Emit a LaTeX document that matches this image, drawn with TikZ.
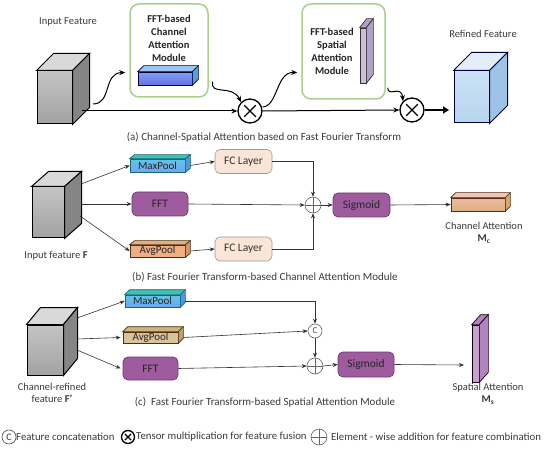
\documentclass[tikz,border=0pt]{standalone}
\usepackage{fontspec}
\setmainfont{Carlito}
\usetikzlibrary{arrows.meta,calc}
\definecolor{txt}{HTML}{3A3A3A}
\definecolor{lin}{HTML}{333333}
\definecolor{grn}{HTML}{A9D18E}
\definecolor{pur}{HTML}{9E5C9F}
\definecolor{purd}{HTML}{6E3A70}
\definecolor{fcf}{HTML}{FBE5D6}
\definecolor{gfa}{HTML}{C4C4C4}
\definecolor{gfb}{HTML}{A2A2A2}
\definecolor{gtop}{HTML}{D9D9D9}
\definecolor{gside}{HTML}{858585}
\definecolor{rfa}{HTML}{CBE2F5}
\definecolor{rfb}{HTML}{B7D5EF}
\definecolor{rtop}{HTML}{E2EEF9}
\definecolor{rside}{HTML}{9DC3E6}
\definecolor{bba}{HTML}{7FA2F2}
\definecolor{bbb}{HTML}{6670E0}
\definecolor{bbtop}{HTML}{9CC3F2}
\definecolor{bbside}{HTML}{5B9BE5}
\definecolor{mpa}{HTML}{5FC6E6}
\definecolor{mpb}{HTML}{6EA6F2}
\definecolor{mptop}{HTML}{3FC2B5}
\definecolor{mpside}{HTML}{4F96E0}
\definecolor{mpd}{HTML}{176870}
\definecolor{apbf}{HTML}{F0AE82}
\definecolor{apbtop}{HTML}{E3B07C}
\definecolor{apbside}{HTML}{D39565}
\definecolor{apcf}{HTML}{D9C39A}
\definecolor{apctop}{HTML}{CDB380}
\definecolor{apcside}{HTML}{BFA06A}
\definecolor{brd}{HTML}{4A3015}
\definecolor{cha}{HTML}{F0B8A4}
\definecolor{chb}{HTML}{D9B282}
\definecolor{chtop}{HTML}{F4C3B5}
\definecolor{chside}{HTML}{D5A86A}
\definecolor{sla}{HTML}{CDBFD9}
\definecolor{slside}{HTML}{B3A0C6}
\definecolor{slc}{HTML}{C9A1CF}
\definecolor{slcside}{HTML}{B185BC}
\newcommand{\threed}[6][]{%
  \draw[#1,fill=#5] (#2.north west) -- ++(#3,-#4) -- ([shift={(#3,-#4)}]#2.north east) -- (#2.north east) -- cycle;
  \draw[#1,fill=#6] (#2.north east) -- ++(#3,-#4) -- ([shift={(#3,-#4)}]#2.south east) -- (#2.south east) -- cycle;}
\begin{document}
\begin{tikzpicture}[x=1pt,y=-1pt,
  lbl/.style={font=\fontsize{10.5}{12}\selectfont, text=txt, inner sep=0pt, align=center},
  captxt/.style={font=\fontsize{11}{12}\selectfont, text=txt, inner sep=0pt, align=center},
  legtxt/.style={font=\fontsize{10.8}{12}\selectfont, text=txt, inner sep=0pt, anchor=west},
  bold/.style={font=\fontsize{10.5}{13}\selectfont\bfseries, text=black!85, inner sep=0pt, align=center},
  arr/.style={-{Stealth[length=5pt,width=4pt]}, draw=lin, line width=0.6pt},
  warr/.style={-{Stealth[length=6pt,width=5pt]}, draw=black, line width=1pt},
  face/.style={draw=black, line width=1pt, inner sep=0pt},
  bar/.style={draw, line width=0.7pt, inner sep=0pt, font=\fontsize{11}{12}\selectfont, text=black!85},
  modbox/.style={draw=grn, line width=1.5pt, rounded corners=9pt, fill=white, inner sep=0pt},
  purbox/.style={draw=purd, line width=0.7pt, fill=pur, rounded corners=5pt, inner sep=0pt, minimum width=56, minimum height=24, font=\fontsize{11.5}{12}\selectfont, text=black!85},
  fcbox/.style={draw=black!40, line width=0.6pt, fill=fcf, rounded corners=5pt, inner sep=0pt, minimum width=57, minimum height=24, font=\fontsize{11.5}{12}\selectfont, text=black!80},
  otimes/.style={circle, draw=black, line width=1.3pt, minimum size=#1, inner sep=0pt,
    path picture={\draw[line width=1.2pt] ([shift={(-0.24*#1,-0.24*#1)}]path picture bounding box.center) -- ([shift={(0.24*#1,0.24*#1)}]path picture bounding box.center)
      ([shift={(-0.24*#1,0.24*#1)}]path picture bounding box.center) -- ([shift={(0.24*#1,-0.24*#1)}]path picture bounding box.center);}},
  oplus/.style={circle, draw=black!60, line width=0.6pt, fill=white, minimum size=#1, inner sep=0pt,
    path picture={\draw[black!60, line width=0.6pt] (path picture bounding box.north) -- (path picture bounding box.south)
      (path picture bounding box.west) -- (path picture bounding box.east);}},
  ocat/.style={circle, draw=black!60, line width=0.6pt, fill=white, minimum size=#1, inner sep=0pt, font=\fontsize{9}{10}\selectfont, text=black!70}
]
\useasboundingbox (0,0) rectangle (550,452);

% ================= (a) =================
\node[lbl] (tin) at (68,22) {Input Feature};
\node[face, minimum width=35, minimum height=53, top color=gfa, bottom color=gfb] (cubea) at (54.5,97.5) {};
\threed[draw=black, line width=1pt]{cubea}{17}{17}{gtop}{gside}

\node[modbox, minimum width=78, minimum height=93] (cam) at (169,50.5) {};
\node[bold] (camt) at (169,38) {FFT-based\\Channel\\Attention\\Module};
\node[bar, draw=black!80!blue, minimum width=54, minimum height=13, top color=bba, bottom color=bbb] (cbar) at (165,78.5) {};
\threed[draw=black!80!blue, line width=0.7pt]{cbar}{6}{6}{bbtop}{bbside}

\node[otimes=24] (x1) at (250,111) {};

\node[modbox, minimum width=83, minimum height=95] (sam) at (343.5,51.5) {};
\node[bold] (samt) at (332,51) {FFT-based\\Spatial\\Attention\\Module};
\node[bar, draw=black!80, minimum width=6, minimum height=55, fill=sla] (sslab) at (363,55.5) {};
\threed[draw=black!80, line width=0.7pt]{sslab}{7}{9}{slside}{slside}

\node[otimes=24] (x2) at (412,110) {};

\node[face, draw=black!75!blue, minimum width=35, minimum height=52, top color=rfa, bottom color=rfb] (cuber) at (471.5,97) {};
\threed[draw=black!75!blue, line width=1pt]{cuber}{18}{18}{rtop}{rside}
\node[lbl] (tref) at (483,34) {Refined Feature};

\coordinate (a0) at (82,111);
\coordinate (a1) at (93,104);
\coordinate (a2) at (449,110);
\draw[warr] (a1) .. controls (112,104) and (103,73) .. ($(cam.west)+(-4,22)$);
\draw[warr] (a0) -- (x1.west);
\draw[warr] ($(cam.south east)+(4,-16)$) .. controls (210,96) and (232,84) .. (x1.north west);
\draw[warr] (x1.east) -- (x2.west);
\draw[warr] ($(x1.east)+(0,-4)$) .. controls (278,106) and (276,72) .. ($(sam.west)+(-4,21)$);
\draw[warr] ($(sam.south east)+(2,-12)$) .. controls (388,98) and (401,84) .. (x2.north west);
\draw[-{Triangle[length=6pt,width=7pt]}, line width=2.2pt] (x2.east) -- (a2);

\node[captxt] (capa) at (264,137) {(a) Channel-Spatial Attention based on Fast Fourier Transform};

% ================= (b) =================
\node[face, minimum width=32, minimum height=51, top color=gfa, bottom color=gfb] (cubeb) at (48,212.5) {};
\threed[draw=black, line width=1pt]{cubeb}{17}{15}{gtop}{gside}
\node[lbl] (tinb) at (56,256) {Input feature \textbf{F}};

\node[bar, draw=mpd, minimum width=55, minimum height=13, top color=mpa, bottom color=mpb] (mpbb) at (157.5,165.5) {MaxPool};
\threed[draw=mpd, line width=0.7pt]{mpbb}{5}{4}{mptop}{mpside}
\node[purbox] (fftb) at (160,204) {FFT};
\node[bar, draw=brd, minimum width=55, minimum height=12, fill=apbf] (apb) at (157.5,251) {AvgPool};
\threed[draw=brd, line width=0.7pt]{apb}{5}{4}{apbtop}{apbside}

\node[fcbox] (fc1) at (243.5,161.5) {FC Layer};
\node[fcbox] (fc2) at (243.5,249) {FC Layer};
\node[oplus=16] (pb) at (313,205) {};
\node[purbox, minimum width=57] (sigb) at (361.5,205) {Sigmoid};
\node[bar, draw=brd, minimum width=54, minimum height=13, top color=cha, bottom color=chb] (chbar) at (478,204.5) {};
\threed[draw=brd, line width=0.7pt]{chbar}{5}{5}{chtop}{chside}
\node[lbl] (tch) at (484,233) {Channel Attention\\\textbf{M\textsubscript{c}}};

\coordinate (b1) at (81,184);
\coordinate (b2) at (81,204);
\coordinate (b3) at (80,216);
\draw[arr] (b1) -- (mpbb.west);
\draw[arr] (b2) -- (fftb.west);
\draw[arr] (b3) -- (apb.west);
\draw[arr] ([xshift=5]mpbb.east) -- (fc1.west);
\draw[arr] ([xshift=5]apb.east) -- (fc2.west);
\draw[arr] (fc1.east) -| (pb.north);
\draw[arr] (fc2.east) -| (pb.south);
\draw[arr] (fftb.east) -- (pb.west);
\draw[arr] (pb.east) -- (sigb.west);
\draw[arr] (sigb.east) -- (chbar.west);

\node[captxt] (capb) at (265,277) {(b) Fast Fourier Transform-based Channel Attention Module};

% ================= (c) =================
\node[face, minimum width=36, minimum height=50, top color=gfa, bottom color=gfb] (cubec) at (45,350) {};
\threed[draw=black, line width=1pt]{cubec}{14}{17}{gtop}{gside}
\node[lbl] (tinc) at (52,392.5) {Channel-refined\\feature \textbf{F’}};

\node[bar, draw=mpd, minimum width=55, minimum height=12, top color=mpa, bottom color=mpb] (mpc) at (152.5,301) {MaxPool};
\threed[draw=mpd, line width=0.7pt]{mpc}{5}{5}{mptop}{mpside}
\node[bar, draw=brd, minimum width=55, minimum height=11, fill=apcf] (apc) at (150.5,337.5) {AvgPool};
\threed[draw=brd, line width=0.7pt]{apc}{5}{5}{apctop}{apcside}
\node[purbox, minimum width=55, minimum height=23] (fftc) at (150.5,368.5) {FFT};

\node[ocat=14] (cc) at (315,331) {C};
\node[oplus=16] (pc) at (315,366) {};
\node[purbox, minimum width=56, minimum height=25] (sigc) at (366,364.5) {Sigmoid};
\node[bar, draw=black!80!violet, minimum width=7, minimum height=57, fill=slc] (ssl) at (475.5,353.5) {};
\threed[draw=black!80!violet, line width=0.7pt]{ssl}{9}{10}{slcside}{slcside}
\node[lbl] (tsp) at (488,394) {Spatial Attention\\\textbf{M\textsubscript{s}}};

\coordinate (c1) at (77,318);
\coordinate (c2) at (77,339);
\coordinate (c3) at (77,350);
\coordinate (c4) at (464,365);
\draw[arr] (c1) -- (mpc.west);
\draw[arr] (c2) -- ([xshift=-2]apc.west);
\draw[arr] (c3) -- ([xshift=-2]fftc.west);
\draw[arr] ([xshift=5]mpc.east) -| (cc.north);
\draw[arr] ([xshift=5]apc.east) -- (cc.west);
\draw[arr] (cc.south) -- (pc.north);
\draw[arr] (fftc.east) -- (pc.west);
\draw[arr] (pc.east) -- (sigc.west);
\draw[arr] (sigc.east) -- (c4);

\node[captxt] (capc) at (265,402) {(c)\ \ Fast Fourier Transform-based Spatial Attention Module};

% ================= legend =================
\node[ocat=14, draw=black!70, text=black!80, font=\fontsize{10}{10}\selectfont] (lc) at (9,437) {C};
\node[legtxt] (lct) at (16,437) {Feature concatenation};
\node[otimes=13] (lx) at (128,437) {};
\node[legtxt] (lxt) at (136,437) {Tensor multiplication for feature fusion};
\node[oplus=16] (lp) at (319,437) {};
\node[legtxt] (lpt) at (331,437) {Element - wise addition for feature combination};
\end{tikzpicture}
\end{document}
